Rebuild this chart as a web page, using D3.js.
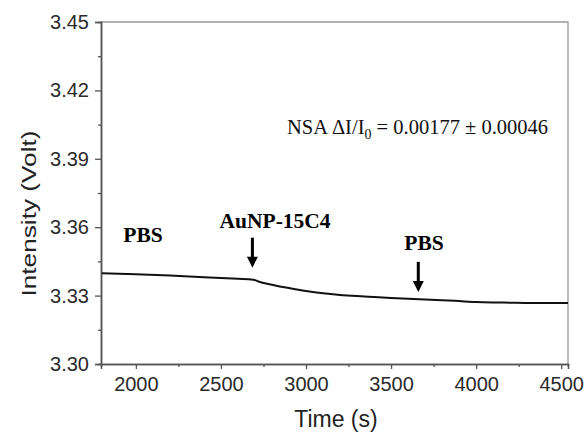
<!DOCTYPE html>
<html>
<head>
<meta charset="utf-8">
<script src="https://cdn.jsdelivr.net/npm/d3@7"></script>
<style>
  body { margin: 0; background: #fff; }
  svg { display: block; }
</style>
</head>
<body>
<svg id="canvas"></svg>
<script>
// signal trace
const times = [1800, 2000, 2200, 2400, 2600, 2690, 2720, 2800, 2900, 3000, 3100, 3200,
  3300, 3400, 3500, 3600, 3700, 3800, 3900, 4000, 4100, 4200, 4300, 4400, 4540];
const volts = [3.3398, 3.3394, 3.3388, 3.3381, 3.3374, 3.3370, 3.3362, 3.3348, 3.3333,
  3.3320, 3.3310, 3.3303, 3.3298, 3.3294, 3.3290, 3.3286, 3.3283, 3.3280, 3.3276,
  3.3272, 3.3270, 3.3269, 3.3268, 3.3268, 3.3267];

const xTicks = [2000, 2500, 3000, 3500, 4000, 4500];
const yTicks = [3.30, 3.33, 3.36, 3.39, 3.42, 3.45];

// annotations, placed in data units
const labels = [
  { text: "PBS", t: 2042, v: 3.3535 },
  { text: "AuNP-15C4", t: 2818, v: 3.3596 },
  { text: "PBS", t: 3694, v: 3.3500 },
];
const arrows = [
  { t: 2685, from: 3.3554, to: 3.3422 },
  { t: 3660, from: 3.3448, to: 3.3316 },
];

function getChartConfig() {
  let canvasWidth = 585,
    canvasHeight = 432;
  let margin = { top: 22, right: 17, bottom: 68, left: 101 };
  let width = canvasWidth - margin.left - margin.right;
  let height = canvasHeight - margin.top - margin.bottom;

  let svg = d3.select("#canvas");
  svg.attr("width", canvasWidth).attr("height", canvasHeight);

  return { canvasWidth, canvasHeight, margin, width, height, svg };
}

function getChartScales(config) {
  let { width, height } = config;
  let xScale = d3.scaleLinear().domain([1795, 4540]).range([0, width]);
  let yScale = d3.scaleLinear().domain([3.30, 3.45]).range([height, 0]);
  return { xScale, yScale };
}

function drawAxes(scales, config) {
  let { xScale, yScale } = scales;
  let { svg, margin, width, height } = config;

  let g = svg.append("g").attr("transform", `translate(${margin.left},${margin.top})`);

  // frame (top and right)
  g.append("path")
    .attr("d", `M0,0H${width}V${height}`)
    .attr("fill", "none")
    .attr("stroke", "#999")
    .attr("stroke-width", 1.3);

  // minor ticks
  let xMinor = d3.range(2250, 4500, 500);
  let yMinor = d3.range(3.315, 3.45, 0.03);

  let axisX = d3.axisBottom(xScale).tickValues(xTicks).tickSize(5).tickPadding(8)
    .tickFormat(d3.format("d"));
  let axisY = d3.axisLeft(yScale).tickValues(yTicks).tickSize(6).tickPadding(6)
    .tickFormat(d3.format(".2f"));

  let gx = g.append("g").attr("transform", `translate(0,${height})`).call(axisX);
  gx.append("g").call(d3.axisBottom(xScale).tickValues(xMinor).tickSize(3).tickFormat(""));
  let gy = g.append("g").call(axisY);
  gy.append("g").call(d3.axisLeft(yScale).tickValues(yMinor).tickSize(3).tickFormat(""));

  g.selectAll(".domain").attr("stroke", "#555").attr("stroke-width", 1.5);
  g.selectAll(".tick line").attr("stroke", "#555").attr("stroke-width", 1.3);
  g.selectAll(".tick text")
    .attr("fill", "#2a2a2a")
    .style("font-family", "'Liberation Sans', Arial, sans-serif")
    .style("font-size", "20px");

  svg.append("text")
    .attr("x", margin.left + xScale(3176))
    .attr("y", 427)
    .attr("text-anchor", "middle")
    .attr("fill", "#222")
    .style("font-family", "'Liberation Sans', Arial, sans-serif")
    .style("font-size", "23px")
    .text("Time (s)");

  svg.append("text")
    .attr("transform", `translate(36,${margin.top + yScale(3.366)}) rotate(-90)`)
    .attr("text-anchor", "middle")
    .attr("fill", "#222")
    .attr("textLength", 166)
    .attr("lengthAdjust", "spacingAndGlyphs")
    .style("font-family", "'Liberation Sans', Arial, sans-serif")
    .style("font-size", "21px")
    .text("Intensity (Volt)");
}

function drawChart(scales, config) {
  let { xScale, yScale } = scales;
  let { svg, margin } = config;
  let data = times.map((t, i) => ({ t, v: volts[i] }));

  let lineGen = d3.line().x((d) => xScale(d.t)).y((d) => yScale(d.v)).curve(d3.curveMonotoneX);

  svg.append("path")
    .attr("transform", `translate(${margin.left},${margin.top})`)
    .datum(data)
    .attr("fill", "none")
    .attr("stroke", "#111")
    .attr("stroke-width", 2)
    .attr("d", lineGen);
}

function drawAnnotations(scales, config) {
  let { xScale, yScale } = scales;
  let { svg, margin } = config;
  let g = svg.append("g").attr("transform", `translate(${margin.left},${margin.top})`);

  g.selectAll(".lbl")
    .data(labels)
    .enter()
    .append("text")
    .attr("class", "lbl")
    .attr("x", (d) => xScale(d.t))
    .attr("y", (d) => yScale(d.v))
    .attr("text-anchor", "middle")
    .style("font-family", "'Liberation Serif', 'Times New Roman', serif")
    .style("font-weight", "bold")
    .style("font-size", "21.5px")
    .text((d) => d.text);

  arrows.forEach((a) => {
    let x = xScale(a.t),
      y0 = yScale(a.from),
      y1 = yScale(a.to);
    g.append("line")
      .attr("x1", x).attr("x2", x)
      .attr("y1", y0).attr("y2", y1 - 8)
      .attr("stroke", "#000")
      .attr("stroke-width", 3);
    g.append("path")
      .attr("d", `M${x - 5.5},${y1 - 11}L${x + 5.5},${y1 - 11}L${x},${y1}Z`)
      .attr("fill", "#000");
  });

  let nsa = g.append("text")
    .attr("x", xScale(2888))
    .attr("y", yScale(3.4009))
    .style("font-family", "'Liberation Serif', 'Times New Roman', serif")
    .style("font-size", "20.5px")
    .attr("fill", "#111");
  nsa.append("tspan").text("NSA \u0394I/I");
  nsa.append("tspan").attr("dy", 5).style("font-size", "14px").text("0");
  nsa.append("tspan").attr("dy", -5).text(" = 0.00177 \u00b1 0.00046");
}

const config = getChartConfig();
const scales = getChartScales(config);
drawAxes(scales, config);
drawChart(scales, config);
drawAnnotations(scales, config);
</script>
</body>
</html>
